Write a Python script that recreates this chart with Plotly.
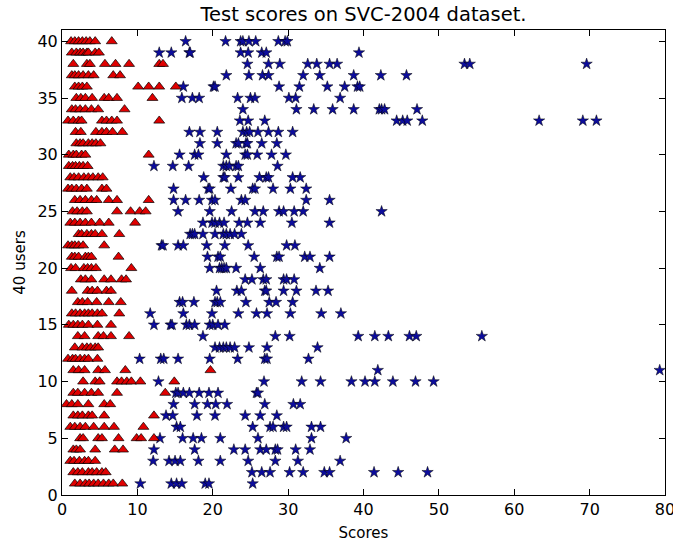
import plotly.graph_objects as go

users = list(range(1, 41))

genuine = [
    [1.7, 2.4, 3.1, 3.6, 4.2, 4.8, 5.5, 6.2, 6.8, 8.0],
    [1.5, 2.1, 2.7, 3.5, 4.0, 4.6, 5.3, 5.8],
    [1.1, 1.6, 2.3, 3.0, 3.5, 4.4],
    [1.5, 1.9, 2.4, 4.4, 7.0, 8.1],
    [2.4, 2.8, 4.8, 5.3, 7.5, 9.9, 10.5, 12.2],
    [1.1, 1.7, 2.4, 3.1, 4.2, 5.6, 6.9, 10.8],
    [1.5, 2.1, 2.7, 3.5, 4.0, 5.6, 12.2],
    [0.6, 1.3, 2.1, 3.5, 5.6, 6.4],
    [1.5, 2.1, 3.0, 3.9, 4.8, 7.3, 13.7],
    [2.8, 4.4, 5.0, 7.3, 7.9, 8.6, 9.2, 10.4, 14.9],
    [1.5, 2.2, 3.0, 4.8, 5.7, 8.4, 19.7],
    [0.8, 1.4, 1.8, 2.4, 3.0, 3.5, 4.7],
    [1.7, 2.7, 3.3, 3.8, 4.4, 4.8],
    [2.1, 3.0, 4.8, 5.5, 6.5, 8.9],
    [0.9, 1.5, 2.1, 2.7, 3.5, 4.7, 6.5],
    [1.3, 1.8, 2.4, 3.0, 3.5, 4.0, 4.7, 5.3, 7.6],
    [2.1, 2.7, 3.4, 4.6, 6.2, 7.8],
    [1.3, 3.4, 4.0, 4.7, 5.9, 6.5],
    [2.5, 3.1, 3.9, 5.6, 6.5, 7.9, 8.5],
    [1.2, 1.8, 2.9, 3.4, 3.9, 4.5, 9.2],
    [1.3, 1.7, 2.2, 3.1, 3.5, 3.9, 7.5],
    [0.8, 1.3, 1.7, 2.2, 2.8, 5.6],
    [2.2, 2.6, 3.3, 3.9, 4.4, 5.3, 7.6],
    [1.1, 1.7, 2.4, 3.1, 3.9, 5.0, 6.2, 9.7],
    [1.4, 2.0, 2.7, 3.3, 7.3, 9.1, 10.3, 11.1],
    [1.7, 2.4, 3.1, 3.9, 4.6, 6.2, 7.3, 11.5],
    [0.8, 1.3, 1.9, 2.6, 3.3, 5.3, 5.9],
    [1.1, 1.6, 2.2, 2.9, 3.5, 4.1, 4.8, 5.4],
    [0.9, 1.4, 1.8, 2.3, 2.8, 3.4],
    [0.9, 1.5, 1.9, 2.6, 3.1, 11.5],
    [1.9, 2.4, 2.8, 3.5, 4.0, 4.5, 5.1],
    [1.8, 2.5, 4.5, 5.3, 5.9, 6.7, 8.0],
    [0.8, 1.5, 2.2, 2.6, 5.3, 5.9, 6.6, 7.3, 12.9],
    [1.3, 1.8, 2.4, 3.1, 3.9, 4.8, 8.3],
    [1.9, 2.5, 3.1, 4.0, 5.6, 6.2, 7.3, 12.0],
    [1.7, 2.2, 2.7, 3.3, 10.1, 11.5, 12.9, 15.1],
    [1.3, 1.7, 2.2, 2.8, 3.5, 4.2, 6.8, 7.7],
    [1.5, 3.3, 3.7, 5.7, 7.1, 8.9, 12.9, 13.4],
    [1.3, 1.9, 2.4, 2.8, 3.3, 3.5, 4.4, 4.9],
    [1.2, 1.7, 2.2, 2.7, 3.2, 3.7, 4.4, 6.6],
]

forgery = [
    [10.4, 14.5, 15.2, 15.9, 19.0, 19.5, 25.3],
    [25.2, 26.5, 27.6, 30.2, 32.0, 34.8, 35.5, 41.4, 44.6, 48.5],
    [12.1, 14.2, 15.0, 15.7, 18.1, 21.0, 24.7, 28.3, 31.3, 36.9],
    [12.2, 17.6, 22.8, 24.3, 26.3, 27.1, 28.3, 28.6, 31.0, 32.9],
    [13.0, 16.0, 17.4, 18.5, 21.0, 26.0, 33.1, 37.7],
    [15.2, 15.7, 25.3, 27.6, 28.0, 29.4, 29.8, 33.1, 34.3],
    [13.8, 14.7, 17.9, 20.3, 24.3, 26.3, 28.5],
    [14.8, 17.6, 19.3, 20.4, 21.9, 26.9, 30.7, 31.6],
    [15.1, 15.4, 16.1, 16.9, 18.2, 19.5, 20.7, 25.8, 26.0],
    [12.8, 26.8, 31.8, 34.3, 38.4, 40.2, 41.5, 43.9, 46.9, 49.3],
    [41.9, 79.3],
    [10.3, 13.1, 13.5, 15.4, 19.6, 23.3, 26.9, 27.2, 32.7],
    [20.3, 20.9, 21.4, 21.8, 22.3, 22.9, 24.8, 27.2, 33.9],
    [18.7, 28.3, 30.2, 39.3, 41.5, 43.3, 46.1, 47.0, 55.7],
    [12.2, 14.4, 14.6, 16.5, 16.9, 17.6, 19.6, 20.0, 20.7, 21.6],
    [11.7, 16.1, 19.9, 23.4, 25.8, 27.2, 30.3, 34.4, 37.0],
    [15.6, 16.0, 17.5, 20.3, 20.6, 21.0, 24.4, 27.5, 28.4, 30.6],
    [20.5, 23.2, 23.8, 26.9, 27.1, 29.4, 31.1, 33.7, 35.3],
    [24.3, 25.2, 26.7, 27.1, 29.4, 29.8, 30.8],
    [19.6, 20.9, 21.2, 21.5, 21.8, 23.1, 26.3, 34.2],
    [19.3, 20.7, 21.0, 25.5, 28.5, 28.8, 32.2, 32.9, 35.5],
    [13.2, 13.4, 15.4, 16.1, 19.2, 21.6, 24.7, 29.8, 30.9],
    [17.0, 17.3, 17.6, 18.7, 20.3, 21.4, 21.8, 22.3, 22.9, 23.8],
    [18.7, 19.9, 20.3, 20.9, 21.5, 23.5, 24.6, 26.3, 30.5, 35.5],
    [15.4, 19.6, 22.5, 25.6, 26.7, 28.8, 29.4, 30.8, 32.0, 42.4],
    [14.8, 16.4, 18.2, 19.9, 20.3, 23.8, 24.3, 32.4, 35.5],
    [14.8, 19.4, 19.6, 22.4, 25.3, 25.6, 28.0, 30.3, 32.4],
    [18.8, 21.4, 21.6, 23.4, 26.2, 27.1, 27.4, 30.6, 31.6],
    [12.2, 14.7, 16.8, 21.4, 21.8, 22.2, 23.1, 23.4, 28.6],
    [15.6, 17.6, 18.1, 21.8, 24.3, 24.6, 25.9, 27.8, 29.7],
    [18.3, 20.6, 23.1, 23.4, 24.4, 24.6, 26.5, 28.5],
    [16.9, 18.3, 20.6, 24.0, 24.5, 24.9, 26.0, 27.4, 28.7, 30.6],
    [23.6, 24.7, 26.9, 44.4, 45.2, 45.8, 47.8, 63.3, 69.1, 70.9],
    [24.0, 31.1, 33.4, 35.9, 38.7, 42.1, 42.4, 42.8, 47.1],
    [15.9, 17.3, 18.2, 23.3, 25.0, 25.6, 30.1, 31.0, 36.9],
    [16.1, 20.1, 20.3, 28.8, 31.5, 35.2, 37.5, 39.2, 39.5],
    [21.8, 24.8, 26.6, 27.4, 32.0, 34.2, 38.7, 42.3, 45.7],
    [24.6, 27.4, 28.9, 32.6, 33.8, 35.5, 36.5, 53.4, 54.1, 69.6],
    [12.9, 14.5, 16.9, 17.0, 23.7, 24.7, 26.5, 27.1, 39.4],
    [16.4, 21.7, 23.7, 24.0, 24.8, 25.7, 28.7, 29.6, 29.9],
]

x_ticks = [0, 10, 20, 30, 40, 50, 60, 70, 80]
y_ticks = [0, 5, 10, 15, 20, 25, 30, 35, 40]

gx, gy, fx, fy = [], [], [], []
for u, g, f in zip(users, genuine, forgery):
    gx += g
    gy += [u] * len(g)
    fx += f
    fy += [u] * len(f)

fig = go.Figure()
fig.add_trace(go.Scatter(
    x=fx, y=fy, mode="markers", name="forgery", cliponaxis=False,
    marker=dict(symbol="star", size=8.5, color="#0c0c9c",
                line=dict(color="black", width=0.5)),
))
fig.add_trace(go.Scatter(
    x=gx, y=gy, mode="markers", name="genuine",
    marker=dict(symbol="triangle-up", size=9.5, color="#e00000",
                line=dict(color="black", width=0.7)),
))

font = "DejaVu Sans, sans-serif"
axis_common = dict(
    showline=True, linecolor="black", linewidth=1, mirror="ticks",
    ticks="inside", ticklen=6, tickcolor="black", tickwidth=1,
    showgrid=False, zeroline=False, automargin=False,
    ticklabeloverflow="allow",
    tickfont=dict(family=font, size=16, color="black"),
)
fig.update_layout(
    width=673, height=544,
    margin=dict(l=62, r=8, t=30, b=49),
    paper_bgcolor="white", plot_bgcolor="white",
    showlegend=False,
    title=dict(text="Test scores on SVC-2004 dataset.", x=(62 + 665) / 2 / 673,
               xanchor="center", y=1 - 14 / 544, yanchor="middle",
               font=dict(family=font, size=19.5, color="black")),
    xaxis=dict(range=[0, 80], tickvals=x_ticks,
               title=dict(text="Scores", standoff=9,
                          font=dict(family=font, size=15, color="black")),
               **axis_common),
    yaxis=dict(range=[0, 41], tickvals=y_ticks,
               title=dict(text="40 users", standoff=8,
                          font=dict(family=font, size=15, color="black")),
               **axis_common),
)

fig.write_html("out.html", config={"displayModeBar": False},
               post_script="document.body.style.margin='0';document.body.style.overflow='hidden';")
